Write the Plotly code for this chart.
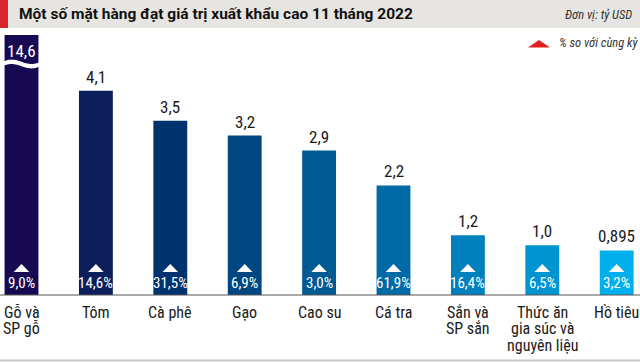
import plotly.graph_objects as go
import numpy as np

# ---- data ----
categories = ["Gỗ và<br>SP gỗ", "Tôm", "Cà phê", "Gạo", "Cao su", "Cá tra",
              "Sắn và<br>SP sắn", "Thức ăn<br>gia súc và<br>nguyên liệu", "Hồ tiêu"]
values = [14.6, 4.1, 3.5, 3.2, 2.9, 2.2, 1.2, 1.0, 0.895]
value_labels = ["14,6", "4,1", "3,5", "3,2", "2,9", "2,2", "1,2", "1,0", "0,895"]
growth_labels = ["9,0%", "14,6%", "31,5%", "6,9%", "3,0%", "61,9%", "16,4%", "6,5%", "3,2%"]
bar_colors = ["#170a52", "#0c1f5c", "#00326e", "#004680", "#005a94",
              "#006aa6", "#0080bd", "#0094d0", "#00afec"]

W, H = 640, 362
BASE_PX, TOP_PX = 295, 35
Y_MAX = 5.22  # axis cap; bars above are clipped (broken bar)

def py(p):  # pixel y -> paper y
    return (H - p) / H

def px(p):
    return p / W

xs = list(range(len(values)))
FONT = "Liberation Sans Narrow, Roboto Condensed, Roboto, Arial"

fig = go.Figure()
fig.add_trace(go.Bar(x=xs, y=values, marker_color=bar_colors, marker_line_width=0,
                     width=0.455, hoverinfo="skip"))

shapes = []
annotations = []

# title bar
shapes.append(dict(type="rect", xref="paper", yref="paper", x0=0, x1=1, y0=py(28), y1=py(0),
                   fillcolor="#e7e5e2", line_width=0, layer="below"))
shapes.append(dict(type="rect", xref="paper", yref="paper", x0=0, x1=px(8), y0=py(28), y1=py(0),
                   fillcolor="#d8262c", line_width=0))
annotations.append(dict(text="<b>Một số mặt hàng đạt giá trị xuất khẩu cao 11 tháng 2022</b>",
                        xref="paper", yref="paper", x=px(17), y=py(14), xanchor="left", yanchor="middle",
                        showarrow=False, font=dict(family="Roboto", size=15.5, color="#111")))
annotations.append(dict(text="<i>Đơn vị: tỷ USD</i>", xref="paper", yref="paper", x=px(634), y=py(15),
                        xanchor="right", yanchor="middle", showarrow=False,
                        font=dict(family=FONT, size=12.5, color="#333")))
# legend
shapes.append(dict(type="path", xref="paper", yref="paper",
                   path=f"M {px(528)} {py(47.5)} L {px(550)} {py(47.5)} L {px(539)} {py(40)} Z",
                   fillcolor="#e02020", line_width=0))
annotations.append(dict(text="<i>% so với cùng kỳ</i>", xref="paper", yref="paper", x=px(557), y=py(43),
                        xanchor="left", yanchor="middle", showarrow=False,
                        font=dict(family=FONT, size=12.5, color="#333")))

# baseline and bottom rule
shapes.append(dict(type="line", xref="paper", yref="paper", x0=0, x1=1, y0=py(295), y1=py(295),
                   line=dict(color="#555", width=1.2)))
shapes.append(dict(type="line", xref="paper", yref="paper", x0=0, x1=1, y0=py(360.5), y1=py(360.5),
                   line=dict(color="#c8c8c8", width=2)))

for i, v in enumerate(values):
    # value label
    if v > Y_MAX:
        annotations.append(dict(text=value_labels[i], x=i, y=Y_MAX, xref="x", yref="y",
                                yanchor="top", yshift=-4, showarrow=False,
                                font=dict(family=FONT, size=17, color="white")))
        # break wave
        n = 30
        wx = np.linspace(i - 0.26, i + 0.26, n)
        top = [64 - 2.2 * np.sin((t - (i - 0.26)) / 0.52 * 2 * np.pi) for t in wx]
        pts_top = [f"{x} {py(y - 2.2)}" for x, y in zip(wx, top)]
        pts_bot = [f"{x} {py(y + 2.2)}" for x, y in zip(wx[::-1], top[::-1])]
        path = "M " + " L ".join(pts_top + pts_bot) + " Z"
        shapes.append(dict(type="path", xref="x", yref="paper", path=path,
                           fillcolor="white", line_width=0))
    else:
        annotations.append(dict(text=value_labels[i], x=i, y=v, xref="x", yref="y",
                                yanchor="bottom", yshift=2, showarrow=False,
                                font=dict(family=FONT, size=17, color="#1a1a1a")))
    # growth triangle and label
    shapes.append(dict(type="path", xref="x", yref="paper",
                       path=f"M {i-0.105} {py(272)} L {i+0.105} {py(272)} L {i} {py(264)} Z",
                       fillcolor="white", line_width=0))
    annotations.append(dict(text=growth_labels[i], x=i, y=py(283), xref="x", yref="paper",
                            yanchor="middle", showarrow=False,
                            font=dict(family=FONT, size=15, color="white")))
    # category label, one annotation per line
    for k, line in enumerate(categories[i].split("<br>")):
        annotations.append(dict(text=line, x=i, y=py(312 + 16.8 * k), xref="x", yref="paper",
                                yanchor="middle", showarrow=False,
                                font=dict(family=FONT, size=16, color="#1a1a1a")))

x0 = -21.5 / 74.4
fig.update_layout(
    width=W, height=H, margin=dict(l=0, r=0, t=0, b=0, pad=0),
    paper_bgcolor="white", plot_bgcolor="white", showlegend=False,
    xaxis=dict(range=[x0, x0 + W / 74.4], visible=False, fixedrange=True),
    yaxis=dict(range=[0, Y_MAX], domain=[py(BASE_PX), py(TOP_PX)], visible=False, fixedrange=True),
    shapes=shapes, annotations=annotations,
)

fig.write_html("out.html", config=dict(displayModeBar=False),
               post_script="document.body.style.margin='0';document.body.style.overflow='hidden';")
